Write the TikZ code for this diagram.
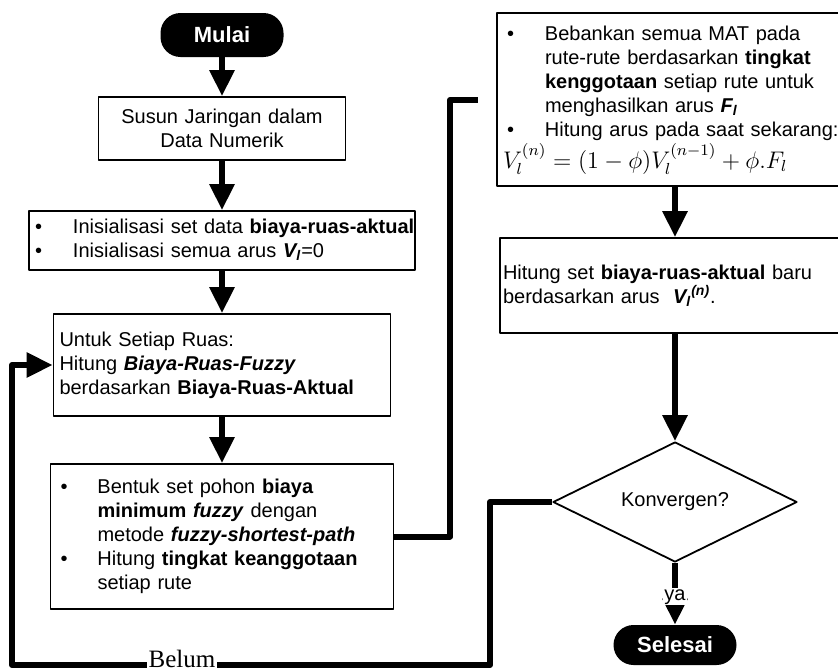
\documentclass[tikz,border=0pt]{standalone}
\usepackage{fontspec}
\setmainfont{Liberation Sans}
\newfontfamily\serifbelum{Liberation Serif}
\usetikzlibrary{arrows.meta,shapes.geometric}
\tikzset{
	kotak/.style={draw,line width=0.9pt,inner xsep=3pt,inner ysep=0pt,align=left},
	terminal/.style={fill=black,text=white,font=\fontsize{11}{13}\bfseries,rounded corners=10pt,minimum width=61.5pt,inner sep=0pt},
	garis/.style={line width=3pt},
	panah/.style={garis,-{Triangle[length=13pt,width=12pt]}},
}
\begin{document}
\begin{tikzpicture}[x=0.5pt,y=-0.5pt,line join=round,font=\fontsize{10}{12}\selectfont]
	\useasboundingbox (0,0) rectangle (838,669);
	\path
	(450,100) coordinate (belok)
	(478,100) coordinate (akhir)
	(490,665) coordinate (b1)
	(12,365) coordinate (b2)
	;
	\node[terminal,minimum height=22pt] (mulai) at (222,35) {Mulai};
	\node[kotak,text width=117.5pt,minimum height=31.5pt,align=center] (jaringan) at (222,128.5) {Susun Jaringan dalam\\Data Numerik};
	\node[kotak,text width=187pt,minimum height=29.5pt] (inisial) at (222,240.5) {%
		\begin{tabular}{@{}p{19pt}@{}l@{}}
			\textbullet & Inisialisasi set data \textbf{biaya-ruas-aktual}\\
			\textbullet & Inisialisasi semua arus \textbf{\textit{V\textsubscript{l}}}=0
	\end{tabular}};
	\node[kotak,text width=162.5pt,minimum height=51pt] (ruas) at (222,365) {Untuk Setiap Ruas:\\Hitung \textbf{\textit{Biaya-Ruas-Fuzzy}}\\berdasarkan \textbf{Biaya-Ruas-Aktual}};
	\node[kotak,text width=165.5pt,minimum height=72.5pt] (pohon) at (222,536.5) {%
		\begin{tabular}{@{\hspace{2pt}}p{18.5pt}@{}p{150pt}@{}}
			\textbullet & Bentuk set pohon \textbf{biaya}\newline \textbf{minimum} \textbf{\textit{fuzzy}} dengan\newline metode \textbf{\textit{fuzzy-shortest-path}}\\
			\textbullet & Hitung \textbf{tingkat keanggotaan}\newline setiap rute
	\end{tabular}};
	\node[kotak,text width=172pt,minimum height=86.5pt] (beban) at (675,99.5) {%
		\begin{tabular}{@{\hspace{2pt}}p{19pt}@{}p{160pt}@{}}
			\textbullet & Bebankan semua MAT pada\newline rute-rute berdasarkan \textbf{tingkat}\newline \textbf{kenggotaan} setiap rute untuk\newline menghasilkan arus \textbf{\textit{F\textsubscript{l}}}\\
			\textbullet & Hitung arus pada saat sekarang:\\
			\multicolumn{2}{@{}l@{}}{\large$V_l^{(n)}=(1-\phi)V_l^{(n-1)}+\phi.F_l$}
	\end{tabular}};
	\node[kotak,inner xsep=1.5pt,text width=172pt,minimum height=47.5pt] (hitung) at (675,285.5) {Hitung set \textbf{biaya-ruas-aktual} baru\\berdasarkan arus \ \textbf{\textit{V\textsubscript{l}\textsuperscript{(n)}}}.};
	\node[diamond,draw,line width=0.9pt,aspect=2,minimum width=122pt,minimum height=60pt,inner sep=0pt] (konvergen) at (675,502) {Konvergen?};
	\node[terminal,minimum height=20pt] (selesai) at (675,645) {Selesai};
	\draw[panah] (mulai) -- (jaringan);
	\draw[panah] (jaringan) -- (inisial);
	\draw[panah] (inisial) -- (ruas);
	\draw[panah] (ruas) -- (pohon);
	\draw[garis] (pohon.east) -| (belok) -- (akhir);
	\draw[panah] (beban) -- (hitung);
	\draw[panah] (hitung) -- (konvergen);
	\draw[panah] (konvergen) -- node[pos=0.55,fill=white,inner sep=0.5pt]{ya} (selesai);
	\draw[panah] (konvergen.west) -| (b1) -| (b2) -- (ruas.west);
	\node[fill=white,inner sep=1pt,font=\fontsize{12.5}{14}\serifbelum] (belum) at (182,659) {Belum};
\end{tikzpicture}
\end{document}
